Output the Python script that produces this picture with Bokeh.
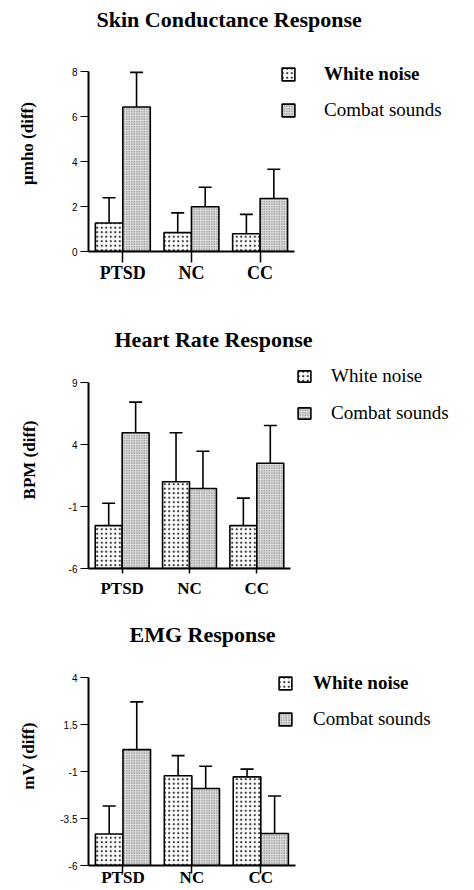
from bokeh.plotting import figure
from bokeh.models import (Range1d, Whisker, TeeHead, ColumnDataSource,
                          Legend, LegendItem, FixedTicker)
from bokeh.layouts import column
from bokeh.embed import file_html
from bokeh.resources import INLINE

# ---------------- data ----------------
groups = ["PTSD", "NC", "CC"]
series = ["White noise", "Combat sounds"]

scr_white = [1.27, 0.84, 0.79]
scr_white_err = [1.12, 0.88, 0.86]
scr_combat = [6.43, 1.99, 2.36]
scr_combat_err = [1.54, 0.87, 1.30]
scr_ticks = [0, 2, 4, 6, 8]
scr_tick_labels = ["0", "2", "4", "6", "8"]

hr_white = [-2.54, 1.0, -2.54]
hr_white_err = [1.81, 3.95, 2.22]
hr_combat = [4.95, 0.46, 2.49]
hr_combat_err = [2.48, 3.0, 3.05]
hr_ticks = [-6, -1, 4, 9]
hr_tick_labels = ["-6", "-1", "4", "9"]

emg_white = [-4.32, -1.22, -1.28]
emg_white_err = [1.49, 1.07, 0.41]
emg_combat = [0.17, -1.90, -4.30]
emg_combat_err = [2.54, 1.18, 2.0]
emg_ticks = [-6, -3.5, -1, 1.5, 4]
emg_tick_labels = ["-6", "-3.5", "-1", "1.5", "4"]

SERIF = "Liberation Serif"
SANS = "Liberation Sans"
FIG_W = 474
TITLE_H = 28      # estimated height of the title panel (px) without standoff


def make_chart(title, ylabel, white, white_err, combat, combat_err, ticks, tick_labels,
               height, mb_left, mb_bottom, group_px, span_px, title_offset, title_standoff,
               ylabel_standoff, xtick_out, xlabel_size, xlabel_standoff,
               leg_x, leg_y1, leg_y2, leg_gw, leg_gh, leg_standoff, leg_size,
               leg_style1, leg_style2):
    ymin, ymax = ticks[0], ticks[-1]
    n = len(groups)
    centers = [i + 0.5 for i in range(n)]
    src = ColumnDataSource(dict(
        group=groups,
        x_white=[c - 0.2 for c in centers],
        x_combat=[c + 0.2 for c in centers],
        white=white,
        white_up=[v + e for v, e in zip(white, white_err)],
        combat=combat,
        combat_up=[v + e for v, e in zip(combat, combat_err)],
    ))
    frame_w = FIG_W - mb_left
    frame_h = height - mb_bottom - TITLE_H - title_standoff
    x_end = n * frame_w / group_px
    y_end = ymin + frame_h * (ymax - ymin) / span_px

    p = figure(width=FIG_W, height=height, x_range=Range1d(0, x_end),
               y_range=Range1d(ymin, y_end), output_backend="svg", toolbar_location=None,
               min_border_left=mb_left, min_border_right=0,
               min_border_top=0, min_border_bottom=mb_bottom)
    p.outline_line_color = None
    p.grid.visible = False

    p.title.text = title
    p.title.text_font = SERIF
    p.title.text_font_style = "bold"
    p.title.text_font_size = "22px"
    p.title.text_color = "black"
    p.title.align = "left"
    p.title.offset = title_offset
    p.title.standoff = title_standoff

    r_white = p.vbar(x="x_white", top="white", bottom=ymin,
                     width=0.4, source=src, fill_color="white", line_color="black",
                     line_width=1.6, hatch_pattern="dot", hatch_scale=4.5, hatch_color="#333333",
                     hatch_weight=1.0)
    r_combat = p.vbar(x="x_combat", top="combat", bottom=ymin,
                      width=0.4, source=src, fill_color="#dedede", line_color="black",
                      line_width=1.6, hatch_pattern="dot", hatch_scale=2.5, hatch_color="#606060",
                      hatch_weight=1.0)

    for xb, lo, up in (("x_white", "white", "white_up"), ("x_combat", "combat", "combat_up")):
        w = Whisker(source=src, base=xb, lower=lo, upper=up,
                    line_width=1.6, line_color="black", lower_head=None,
                    upper_head=TeeHead(size=13, line_width=1.6, line_color="black"))
        p.add_layout(w)

    xa = p.xaxis[0]
    xa.ticker = FixedTicker(ticks=centers)
    xa.major_label_overrides = {c: g for c, g in zip(centers, groups)}
    xa.bounds = (0, n)
    xa.axis_line_width = 2
    xa.major_tick_in = 0
    xa.major_tick_out = xtick_out
    xa.major_tick_line_width = 1.5
    xa.minor_tick_out = 0
    xa.minor_tick_in = 0
    xa.major_label_text_font = SERIF
    xa.major_label_text_font_style = "bold"
    xa.major_label_text_font_size = xlabel_size
    xa.major_label_standoff = xlabel_standoff
    xa.major_label_text_color = "black"

    ya = p.yaxis[0]
    ya.ticker = FixedTicker(ticks=ticks)
    ya.major_label_overrides = {t: s for t, s in zip(ticks, tick_labels)}
    ya.bounds = (ymin, ymax)
    ya.axis_line_width = 2
    ya.major_tick_in = 0
    ya.major_tick_out = 8
    ya.major_tick_line_width = 1.2
    ya.minor_tick_out = 0
    ya.minor_tick_in = 0
    ya.major_label_text_font = SANS
    ya.major_label_text_font_size = "10px"
    ya.major_label_standoff = 3
    ya.major_label_text_color = "black"
    ya.axis_label = ylabel
    ya.axis_label_text_font = SERIF
    ya.axis_label_text_font_style = "bold"
    ya.axis_label_text_font_size = "17px"
    ya.axis_label_standoff = ylabel_standoff
    ya.axis_label_text_color = "black"

    for r, lab, ly, st in ((r_white, series[0], leg_y1, leg_style1),
                           (r_combat, series[1], leg_y2, leg_style2)):
        leg = Legend(items=[LegendItem(label=lab, renderers=[r])], location=(leg_x, ly),
                     glyph_width=leg_gw, glyph_height=leg_gh, label_height=leg_gh,
                     label_standoff=leg_standoff, padding=0, margin=0, spacing=0,
                     border_line_color=None, background_fill_alpha=0,
                     label_text_font=SERIF, label_text_font_size=leg_size,
                     label_text_font_style=st, label_text_color="black")
        p.add_layout(leg)
    return p


p1 = make_chart("Skin Conductance Response", "\u03bcmho (diff)", scr_white, scr_white_err,
                scr_combat, scr_combat_err, scr_ticks, scr_tick_labels,
                height=324, mb_left=86, mb_bottom=73, group_px=207, span_px=179,
                title_offset=8, title_standoff=8, ylabel_standoff=32,
                xtick_out=11, xlabel_size="18px", xlabel_standoff=0,
                leg_x=192, leg_y1=166, leg_y2=130, leg_gw=16, leg_gh=16,
                leg_standoff=28, leg_size="19px", leg_style1="bold", leg_style2="normal")

p2 = make_chart("Heart Rate Response", "BPM (diff)", hr_white, hr_white_err,
                hr_combat, hr_combat_err, hr_ticks, hr_tick_labels,
                height=295, mb_left=88, mb_bottom=51, group_px=202, span_px=185,
                title_offset=26, title_standoff=0, ylabel_standoff=27,
                xtick_out=5, xlabel_size="17px", xlabel_standoff=5,
                leg_x=208, leg_y1=181, leg_y2=144, leg_gw=16, leg_gh=14,
                leg_standoff=19, leg_size="19px", leg_style1="normal", leg_style2="normal")

p3 = make_chart("EMG Response", "mV (diff)", emg_white, emg_white_err,
                emg_combat, emg_combat_err, emg_ticks, emg_tick_labels,
                height=270, mb_left=82, mb_bottom=24, group_px=210, span_px=187,
                title_offset=41, title_standoff=0, ylabel_standoff=19,
                xtick_out=8, xlabel_size="17px", xlabel_standoff=-6,
                leg_x=189, leg_y1=171, leg_y2=135, leg_gw=16, leg_gh=16,
                leg_standoff=20, leg_size="19px", leg_style1="bold", leg_style2="normal")

layout = column(p1, p2, p3, spacing=0)
open("out.html", "w").write(file_html(layout, INLINE))
